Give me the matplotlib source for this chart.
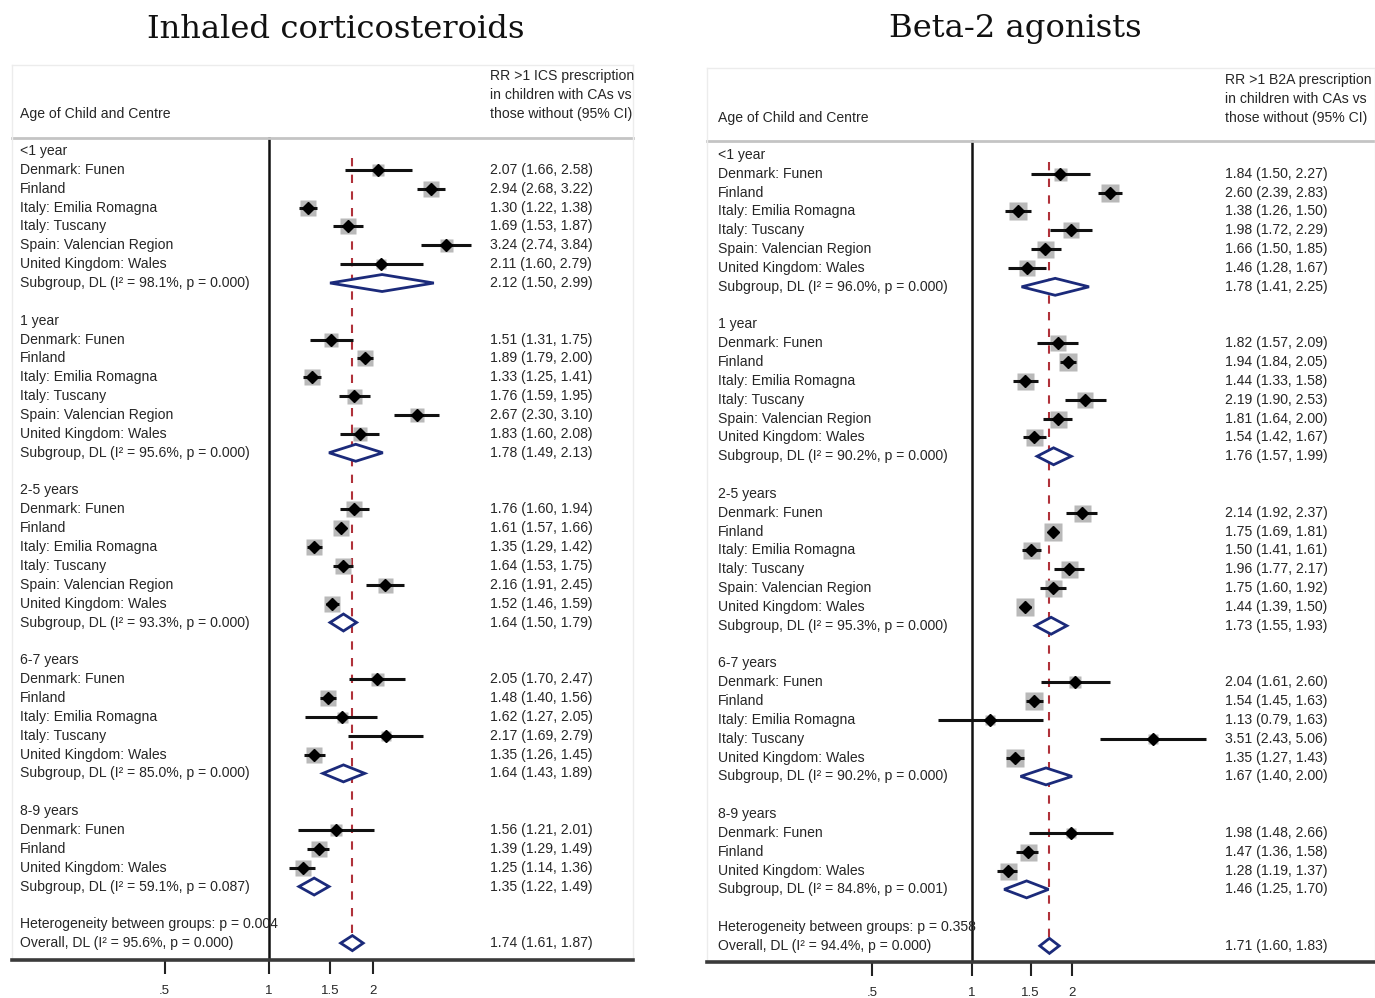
# Forest plots: RR of ICS / B2A prescription in children with CAs vs those without

import numpy as np
import matplotlib.pyplot as plt
from matplotlib.patches import Polygon
from matplotlib.transforms import blended_transform_factory

plt.rcParams['font.family'] = ['Liberation Sans', 'DejaVu Sans']

# ---- data ----
age_groups = ['<1 year', '1 year', '2-5 years', '6-7 years', '8-9 years']
centres = [
    ['Denmark: Funen', 'Finland', 'Italy: Emilia Romagna', 'Italy: Tuscany',
     'Spain: Valencian Region', 'United Kingdom: Wales'],
    ['Denmark: Funen', 'Finland', 'Italy: Emilia Romagna', 'Italy: Tuscany',
     'Spain: Valencian Region', 'United Kingdom: Wales'],
    ['Denmark: Funen', 'Finland', 'Italy: Emilia Romagna', 'Italy: Tuscany',
     'Spain: Valencian Region', 'United Kingdom: Wales'],
    ['Denmark: Funen', 'Finland', 'Italy: Emilia Romagna', 'Italy: Tuscany',
     'United Kingdom: Wales'],
    ['Denmark: Funen', 'Finland', 'United Kingdom: Wales'],
]

# Inhaled corticosteroids
ics_rr = [[2.07, 2.94, 1.30, 1.69, 3.24, 2.11],
          [1.51, 1.89, 1.33, 1.76, 2.67, 1.83],
          [1.76, 1.61, 1.35, 1.64, 2.16, 1.52],
          [2.05, 1.48, 1.62, 2.17, 1.35],
          [1.56, 1.39, 1.25]]
ics_lo = [[1.66, 2.68, 1.22, 1.53, 2.74, 1.60],
          [1.31, 1.79, 1.25, 1.59, 2.30, 1.60],
          [1.60, 1.57, 1.29, 1.53, 1.91, 1.46],
          [1.70, 1.40, 1.27, 1.69, 1.26],
          [1.21, 1.29, 1.14]]
ics_hi = [[2.58, 3.22, 1.38, 1.87, 3.84, 2.79],
          [1.75, 2.00, 1.41, 1.95, 3.10, 2.08],
          [1.94, 1.66, 1.42, 1.75, 2.45, 1.59],
          [2.47, 1.56, 2.05, 2.79, 1.45],
          [2.01, 1.49, 1.36]]
ics_box = [[12, 16, 16, 16, 13, 10],
           [14, 16, 16, 15, 14, 14],
           [16, 16, 16, 16, 15, 16],
           [13, 16, 11, 10, 16],
           [12, 16, 16]]
ics_sub_rr = [2.12, 1.78, 1.64, 1.64, 1.35]
ics_sub_lo = [1.50, 1.49, 1.50, 1.43, 1.22]
ics_sub_hi = [2.99, 2.13, 1.79, 1.89, 1.49]
ics_sub_i2 = ['98.1', '95.6', '93.3', '85.0', '59.1']
ics_sub_p = ['0.000', '0.000', '0.000', '0.000', '0.087']
ics_het_p = '0.004'
ics_overall = [1.74, 1.61, 1.87]
ics_overall_i2 = '95.6'
ics_overall_p = '0.000'

# Beta-2 agonists
b2a_rr = [[1.84, 2.60, 1.38, 1.98, 1.66, 1.46],
          [1.82, 1.94, 1.44, 2.19, 1.81, 1.54],
          [2.14, 1.75, 1.50, 1.96, 1.75, 1.44],
          [2.04, 1.54, 1.13, 3.51, 1.35],
          [1.98, 1.47, 1.28]]
b2a_lo = [[1.50, 2.39, 1.26, 1.72, 1.50, 1.28],
          [1.57, 1.84, 1.33, 1.90, 1.64, 1.42],
          [1.92, 1.69, 1.41, 1.77, 1.60, 1.39],
          [1.61, 1.45, 0.79, 2.43, 1.27],
          [1.48, 1.36, 1.19]]
b2a_hi = [[2.27, 2.83, 1.50, 2.29, 1.85, 1.67],
          [2.09, 2.05, 1.58, 2.53, 2.00, 1.67],
          [2.37, 1.81, 1.61, 2.17, 1.92, 1.50],
          [2.60, 1.63, 1.63, 5.06, 1.43],
          [2.66, 1.58, 1.37]]
b2a_box = [[13, 18, 18, 16, 17, 16],
           [16, 18, 17, 16, 17, 17],
           [17, 18, 17, 17, 17, 18],
           [12, 18, 10, 10, 18],
           [10, 17, 17]]
b2a_sub_rr = [1.78, 1.76, 1.73, 1.67, 1.46]
b2a_sub_lo = [1.41, 1.57, 1.55, 1.40, 1.25]
b2a_sub_hi = [2.25, 1.99, 1.93, 2.00, 1.70]
b2a_sub_i2 = ['96.0', '90.2', '95.3', '90.2', '84.8']
b2a_sub_p = ['0.000', '0.000', '0.000', '0.000', '0.001']
b2a_het_p = '0.358'
b2a_overall = [1.71, 1.60, 1.83]
b2a_overall_i2 = '94.4'
b2a_overall_p = '0.000'

tick_vals = [0.5, 1, 1.5, 2]
tick_labels = ['.5', '1', '1.5', '2']

W, H = 1375, 998
fig = plt.figure(figsize=(W / 100, H / 100), dpi=100)

TXT = '#262626'
FS = 10.1


def fmt(rr, lo, hi):
    return f'{rr:.2f} ({lo:.2f}, {hi:.2f})'


def diamond(ax, est, lo, hi, y, h=0.45):
    pts = [(lo, y), (est, y - h), (hi, y), (est, y + h)]
    ax.add_patch(Polygon(pts, closed=True, facecolor='white',
                         edgecolor='#1b2a7a', lw=2.0, zorder=4))


def forest(geom, title, title_x, header, rr, lo, hi, box, sub_rr, sub_lo,
           sub_hi, sub_i2, sub_p, het_p, overall, overall_i2, overall_p):
    x0, x1, ytop, ybot, px_one, px_ln, row0, step, txt_x, sep_px = geom
    ax = fig.add_axes([x0 / W, 1 - ybot / H, (x1 - x0) / W, (ybot - ytop) / H])
    ax.set_xscale('log')
    ax.set_xlim(np.exp((x0 - px_one) / px_ln), np.exp((x1 - px_one) / px_ln))
    ax.set_ylim((ybot - row0) / step, (ytop - row0) / step)
    tr = blended_transform_factory(ax.transAxes, ax.transData)
    lab_x = (txt_x[0] - x0) / (x1 - x0)
    num_x = (txt_x[1] - x0) / (x1 - x0)
    sep = (sep_px - row0) / step

    # header
    ax.text(lab_x, -1.96, 'Age of Child and Centre', transform=tr,
            fontsize=FS, color=TXT, va='center')
    for k, line in enumerate(header):
        ax.text(num_x, -3.98 + k * 1.01, line, transform=tr, fontsize=FS,
                color=TXT, va='center')
    ax.plot([0, 1], [sep, sep], transform=tr, color='#c4c4c4', lw=2,
            clip_on=False)

    r = 0
    for g, name in enumerate(age_groups):
        ax.text(lab_x, r, name, transform=tr, fontsize=FS, color=TXT, va='center')
        r += 1
        for c, cname in enumerate(centres[g]):
            ax.text(lab_x, r, cname, transform=tr, fontsize=FS, color=TXT,
                    va='center')
            ax.text(num_x, r, fmt(rr[g][c], lo[g][c], hi[g][c]), transform=tr,
                    fontsize=FS, color=TXT, va='center')
            ax.plot(rr[g][c], r, marker='s', ms=box[g][c] * 0.72, color='#b9b9b9',
                    mec='none', zorder=2)
            ax.plot([lo[g][c], hi[g][c]], [r, r], color='#111111', lw=2.2,
                    zorder=3, solid_capstyle='butt')
            ax.plot(rr[g][c], r, marker='D', ms=6.3, color='#000000', zorder=3)
            r += 1
        ax.text(lab_x, r, f'Subgroup, DL (I² = {sub_i2[g]}%, p = {sub_p[g]})',
                transform=tr, fontsize=FS, color=TXT, va='center')
        ax.text(num_x, r, fmt(sub_rr[g], sub_lo[g], sub_hi[g]), transform=tr,
                fontsize=FS, color=TXT, va='center')
        diamond(ax, sub_rr[g], sub_lo[g], sub_hi[g], r)
        r += 2

    ax.text(lab_x, r, f'Heterogeneity between groups: p = {het_p}', transform=tr,
            fontsize=FS, color=TXT, va='center', zorder=5)
    r += 1
    ax.text(lab_x, r, f'Overall, DL (I² = {overall_i2}%, p = {overall_p})',
            transform=tr, fontsize=FS, color=TXT, va='center')
    ax.text(num_x, r, fmt(*overall), transform=tr, fontsize=FS, color=TXT,
            va='center')
    diamond(ax, overall[0], overall[1], overall[2], r, h=0.4)

    # reference lines
    ax.plot([1, 1], [sep, ax.get_ylim()[0]], color='#111111', lw=1.8, zorder=1)
    ax.plot([overall[0], overall[0]], [0.35, r - 0.4], color='#b0313a', lw=1.5,
            dashes=(4, 4), zorder=1)

    # axes styling
    for s in ['top', 'left', 'right']:
        ax.spines[s].set_color('#ececec')
        ax.spines[s].set_linewidth(1)
    ax.spines['bottom'].set_color('#3a3a3a')
    ax.spines['bottom'].set_linewidth(2.6)
    ax.set_yticks([])
    ax.set_xticks(tick_vals)
    ax.set_xticklabels(tick_labels)
    ax.minorticks_off()
    ax.tick_params(axis='x', length=10, width=1.5, pad=8, labelsize=9.5,
                   color='#222222', labelcolor=TXT)

    fig.text(title_x / W, 1 - 29 / H, title, ha='center', va='center',
             fontsize=23.2, family='DejaVu Serif', color='#111111')
    return ax


forest((12, 633, 65, 960, 269, 150.5, 151, 18.86, (20, 490), 138),
       'Inhaled corticosteroids', 336,
       ['RR >1 ICS prescription', 'in children with CAs vs',
        'those without (95% CI)'],
       ics_rr, ics_lo, ics_hi, ics_box, ics_sub_rr, ics_sub_lo, ics_sub_hi,
       ics_sub_i2, ics_sub_p, ics_het_p, ics_overall, ics_overall_i2,
       ics_overall_p)

forest((707, 1375, 68, 962, 972, 144.3, 155, 18.83, (718, 1225), 141),
       'Beta-2 agonists', 1015,
       ['RR >1 B2A prescription', 'in children with CAs vs',
        'those without (95% CI)'],
       b2a_rr, b2a_lo, b2a_hi, b2a_box, b2a_sub_rr, b2a_sub_lo, b2a_sub_hi,
       b2a_sub_i2, b2a_sub_p, b2a_het_p, b2a_overall, b2a_overall_i2,
       b2a_overall_p)

fig.savefig('out.png', dpi=100)
